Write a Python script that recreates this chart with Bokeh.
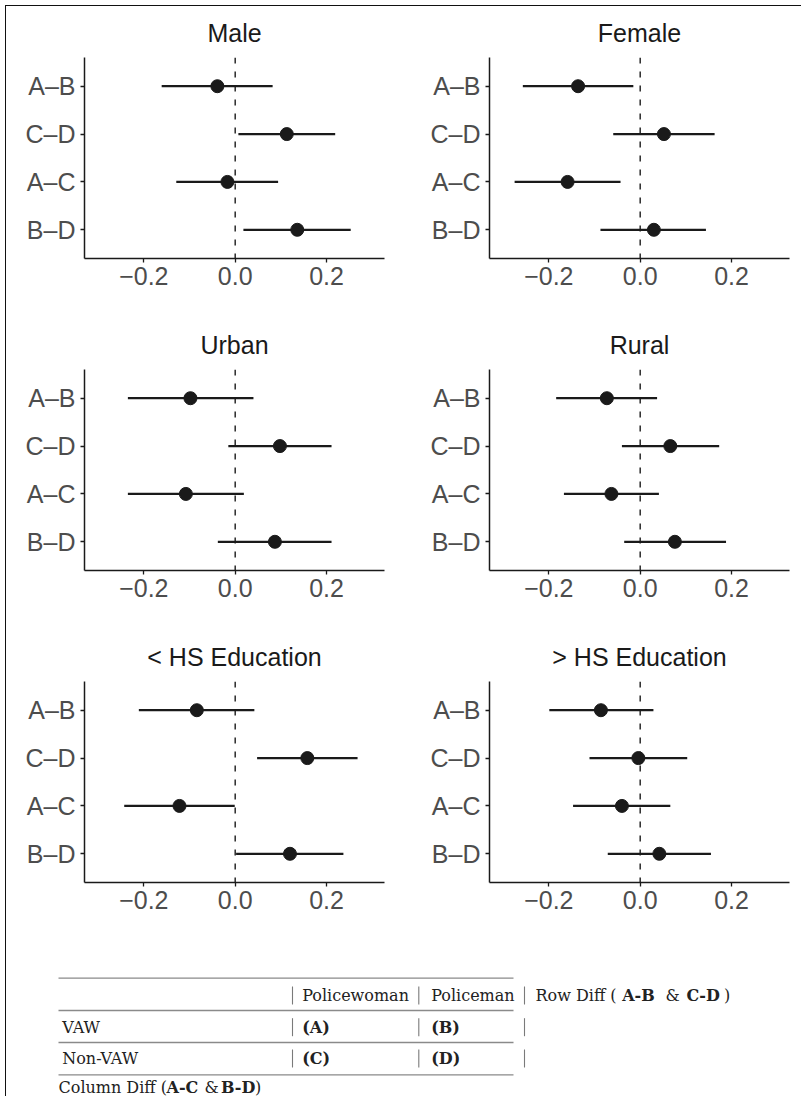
from bokeh.plotting import figure
from bokeh.models import Range1d, FixedTicker, Span, ColumnDataSource, CustomJSTickFormatter
from bokeh.layouts import column, row
from bokeh.embed import file_html
from bokeh.resources import INLINE
from bokeh.core.properties import value

# ---------------- data ----------------
comparisons = ["A–B", "C–D", "A–C", "B–D"]
panel_titles = ["Male", "Female", "Urban", "Rural", "< HS Education", "> HS Education"]

male_est = [-0.039, 0.113, -0.017, 0.136]
male_lo = [-0.161, 0.007, -0.129, 0.018]
male_hi = [0.082, 0.219, 0.094, 0.253]

female_est = [-0.136, 0.052, -0.159, 0.030]
female_lo = [-0.257, -0.059, -0.275, -0.087]
female_hi = [-0.015, 0.163, -0.043, 0.144]

urban_est = [-0.098, 0.098, -0.108, 0.087]
urban_lo = [-0.235, -0.015, -0.235, -0.038]
urban_hi = [0.040, 0.211, 0.019, 0.211]

rural_est = [-0.073, 0.066, -0.063, 0.076]
rural_lo = [-0.184, -0.040, -0.167, -0.035]
rural_hi = [0.037, 0.173, 0.041, 0.188]

lowhs_est = [-0.084, 0.158, -0.122, 0.120]
lowhs_lo = [-0.211, 0.048, -0.243, 0.002]
lowhs_hi = [0.042, 0.268, -0.001, 0.237]

highhs_est = [-0.086, -0.004, -0.040, 0.042]
highhs_lo = [-0.199, -0.111, -0.147, -0.071]
highhs_hi = [0.029, 0.103, 0.066, 0.155]

x_ticks = [-0.2, 0.0, 0.2]

table_col_headers = ["Policewoman", "Policeman"]
table_row_names = ["VAW", "Non-VAW"]
table_cells = [["(A)", "(B)"], ["(C)", "(D)"]]
row_diff_parts = [("Row Diff (", False), ("A-B", True), ("&", False), ("C-D", True), (")", False)]
col_diff_parts = [("Column Diff (", False), ("A-C", True), ("&", False), ("B-D", True), (")", False)]

series = [
    (male_est, male_lo, male_hi),
    (female_est, female_lo, female_hi),
    (urban_est, urban_lo, urban_hi),
    (rural_est, rural_lo, rural_hi),
    (lowhs_est, lowhs_lo, lowhs_hi),
    (highhs_est, highhs_lo, highhs_hi),
]

# ---------------- style ----------------
SANS = "Liberation Sans"
SERIF = "DejaVu Serif"
INK = "#1a1a1a"
LABEL = "#4d4d4d"

ypos = list(range(len(comparisons), 0, -1))  # A–B on top
XR = (-0.33, 0.327)
YR = (0.4, 4.6)
TITLE_H = 47


def bare(p):
    p.outline_line_color = None
    p.xgrid.visible = False
    p.ygrid.visible = False
    p.background_fill_color = None
    p.border_fill_color = None


def make_panel(title, est, lo, hi, left_col):
    w = 405 if left_col else 386
    rb = 31 if left_col else 12
    # title strip
    t = figure(width=w, height=TITLE_H, x_range=Range1d(*XR), y_range=Range1d(TITLE_H, 0),
               output_backend="svg", toolbar_location=None,
               min_border_left=74, min_border_right=rb, min_border_top=0, min_border_bottom=0)
    bare(t)
    t.axis.visible = False
    t.text(x=[(XR[0] + XR[1]) / 2], y=[22.5], text=[title], text_align="center",
           text_baseline="middle", text_font=value(SANS), text_font_size="25px",
           text_color=INK)

    p = figure(width=w, height=312 - TITLE_H,
               x_range=Range1d(*XR), y_range=Range1d(*YR),
               output_backend="svg", toolbar_location=None,
               min_border_left=74, min_border_right=rb,
               min_border_top=0, min_border_bottom=64)
    bare(p)

    src = ColumnDataSource(dict(y=ypos, est=est, lo=lo, hi=hi))
    p.add_layout(Span(location=0, dimension="height", line_color=INK,
                      line_width=1.4, line_dash="6 8"))
    p.segment(x0="lo", x1="hi", y0="y", y1="y", source=src, line_color=INK, line_width=2.2)
    p.scatter(x="est", y="y", source=src, size=13, color=INK)

    for ax in (p.xaxis[0], p.yaxis[0]):
        ax.axis_line_color = INK
        ax.axis_line_width = 1.5
        ax.major_tick_line_color = INK
        ax.major_tick_line_width = 1.3
        ax.major_tick_out = 4
        ax.major_tick_in = 0
        ax.minor_tick_out = 0
        ax.minor_tick_in = 0
        ax.major_label_text_font = SANS
        ax.major_label_text_font_size = "25px"
        ax.major_label_text_color = LABEL
    p.xaxis.ticker = FixedTicker(ticks=x_ticks)
    p.xaxis.formatter = CustomJSTickFormatter(
        code="return (tick < 0 ? '\u2212' : '') + Math.abs(tick).toFixed(1);")
    p.xaxis.major_label_standoff = 4
    p.yaxis.ticker = FixedTicker(ticks=ypos)
    p.yaxis.major_label_overrides = {yy: c for yy, c in zip(ypos, comparisons)}
    p.yaxis.major_label_standoff = 5
    return column(t, p)


panels = [make_panel(t, *s, left_col=(i % 2 == 0)) for i, (t, s) in enumerate(zip(panel_titles, series))]

# ---------------- table ----------------
TW, TH = 791, 150
tp = figure(width=TW, height=TH, x_range=Range1d(0, TW), y_range=Range1d(TH, 0),
            output_backend="svg", toolbar_location=None,
            min_border=0, min_border_left=0, min_border_right=0,
            min_border_top=0, min_border_bottom=0)
tp.axis.visible = False
bare(tp)

# layout positions (page px minus container origin)
OX, OY = 10, 946
line_ys = [977.7, 1010, 1042, 1074.3]
tp.segment(x0=[58 - OX] * 4, x1=[513 - OX] * 4, y0=[y - OY for y in line_ys],
           y1=[y - OY for y in line_ys], line_color="#8a8a8a", line_width=1.3)

row_cy = [995, 1026.7, 1058, 1086.7]
bar_xs = [292, 418.3, 524]
col_xs = [301.7, 430.7]
FS = "16px"
TXT = "#222222"

norm = dict(x=[], y=[], t=[])
bold = dict(x=[], y=[], t=[])
bars = dict(x0=[], y0=[], y1=[])

# header row
for cx, h in zip(col_xs, table_col_headers):
    norm["x"].append(cx - OX); norm["y"].append(row_cy[0] - OY); norm["t"].append(h)
for (txt, b), px in zip(row_diff_parts, [535, 621.7, 665, 686, 723.5]):
    d = bold if b else norm
    d["x"].append(px - OX); d["y"].append(row_cy[0] - OY); d["t"].append(txt)
# body rows
for r, (name, cells) in enumerate(zip(table_row_names, table_cells)):
    cy = row_cy[r + 1] - OY
    norm["x"].append(61.7 - OX); norm["y"].append(cy); norm["t"].append(name)
    for cx, c in zip(col_xs, cells):
        bold["x"].append(cx - OX); bold["y"].append(cy); bold["t"].append(c)
# separators "|" for the three top rows
for cyp in row_cy[:3]:
    for bx in bar_xs:
        bars["x0"].append(bx - OX); bars["y0"].append(cyp - OY - 9); bars["y1"].append(cyp - OY + 9)
# column diff
for (txt, b), px in zip(col_diff_parts, [58, 166, 204, 220.5, 254.5]):
    d = bold if b else norm
    d["x"].append(px - OX); d["y"].append(row_cy[3] - OY); d["t"].append(txt)

common = dict(text_align="left", text_baseline="middle", text_font=value(SERIF), text_font_size=FS)
tp.text(x="x", y="y", text="t", source=ColumnDataSource(norm), text_color=TXT, **common)
tp.text(x="x", y="y", text="t", source=ColumnDataSource(bold), text_color=TXT, text_font_style="bold", **common)
tp.segment(x0="x0", x1="x0", y0="y0", y1="y1", source=ColumnDataSource(bars),
           line_color="#7a7a7a", line_width=1.1)

layout = column(
    row(panels[0], panels[1]),
    row(panels[2], panels[3]),
    row(panels[4], panels[5]),
    tp,
    styles={"margin-left": "5px", "margin-top": "5px",
            "border-top": "1.5px solid #111", "border-left": "1.5px solid #111",
            "padding-left": "3.5px", "padding-top": "3.5px"},
)

open("out.html", "w").write(file_html(layout, INLINE))
